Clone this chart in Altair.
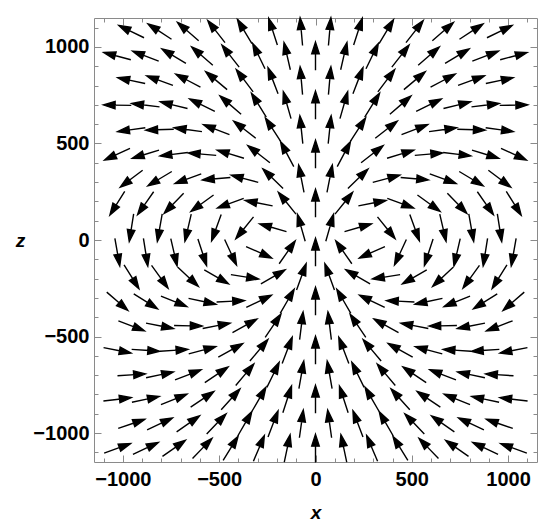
import altair as alt
import pandas as pd
import numpy as np

# ---- grid of arrow centres (hexagonal layout, rows alternate A / B) ----
ROW_Z = [1079.5, 952.5, 825.5, 698.5, 571.5, 444.5, 317.5, 190.5, 63.5,
         -63.5, -190.5, -317.5, -444.5, -571.5, -698.5, -825.5, -952.5, -1079.5]
COLS_A = [-955.5, -808.5, -661.5, -514.5, -367.5, -220.5, -73.5,
          73.5, 220.5, 367.5, 514.5, 661.5, 808.5, 955.5]
COLS_B = [-1029, -882, -735, -588, -441, -294, -147, 0,
          147, 294, 441, 588, 735, 882, 1029]

# ---- arrow directions (degrees, counter-clockwise from +x), read row by row ----
ANG_R01 = [154, 147, 139, 128, 121, 108, 95, 85, 72, 59, 52, 41, 33, 26]
ANG_R02 = [165, 159, 149, 139, 128, 116, 103, 90, 77, 64, 52, 41, 31, 21, 15]
ANG_R03 = [168, 160, 152, 140, 127, 111, 95, 85, 69, 53, 40, 28, 20, 12]
ANG_R04 = [179, 173, 166, 154, 139, 122, 106, 90, 74, 58, 41, 26, 14, 7, 1]
ANG_R05 = [188, 182, 172, 159, 142, 123, 96, 84, 57, 38, 21, 8, 358, 352]
ANG_R06 = [205, 197, 187, 175, 163, 142, 118, 90, 62, 38, 17, 5, 353, 343, 335]
ANG_R07 = [217, 211, 200, 185, 165, 136, 101, 79, 44, 15, 355, 340, 329, 323]
ANG_R08 = [238, 235, 226, 216, 200, 169, 129, 90, 51, 11, 340, 324, 314, 305, 302]
ANG_R09 = [261, 260, 257, 250, 231, 164, 106, 74, 16, 309, 290, 283, 280, 279]
ANG_R10 = [280, 279, 283, 288, 295, 336, 55, 90, 125, 204, 245, 252, 257, 261, 260]
ANG_R11 = [302, 306, 317, 330, 351, 30, 70, 110, 150, 189, 210, 223, 234, 238]
ANG_R12 = [319, 328, 338, 348, 3, 26, 60, 90, 120, 154, 177, 192, 202, 212, 221]
ANG_R13 = [339, 349, 359, 11, 29, 56, 83, 97, 124, 151, 169, 181, 191, 201]
ANG_R14 = [349, 356, 4, 15, 29, 50, 69, 90, 111, 130, 151, 165, 176, 184, 191]
ANG_R15 = [4, 12, 21, 34, 50, 64, 80, 100, 116, 130, 146, 159, 168, 176]
ANG_R16 = [7, 12, 22, 34, 48, 60, 72, 90, 108, 120, 132, 146, 158, 168, 173]
ANG_R17 = [19, 25, 35, 46, 60, 69, 82, 98, 111, 120, 134, 145, 155, 161]
ANG_R18 = [20, 25, 35, 46, 58, 67, 78, 90, 102, 113, 122, 134, 145, 155, 160]

ROW_ANGLES = [ANG_R01, ANG_R02, ANG_R03, ANG_R04, ANG_R05, ANG_R06, ANG_R07, ANG_R08, ANG_R09,
              ANG_R10, ANG_R11, ANG_R12, ANG_R13, ANG_R14, ANG_R15, ANG_R16, ANG_R17, ANG_R18]

MAJOR_TICKS = [-1000, -500, 0, 500, 1000]
MINOR_TICKS = [-1100, -900, -800, -700, -600, -400, -300, -200, -100,
               100, 200, 300, 400, 600, 700, 800, 900, 1100]
DOMAIN = [-1150, 1150]

# ---- build table ----
rows = []
for i, (z, angs) in enumerate(zip(ROW_Z, ROW_ANGLES)):
    cols = COLS_A if i % 2 == 0 else COLS_B
    for x, a in zip(cols, angs):
        rows.append({"x": x, "z": z, "rot": (90 - a) % 360})
df = pd.DataFrame(rows)

W, H = 443, 444
FONT = "Liberation Sans"
FRAME = "#8a8a8a"

ARROW = "M0,-1 L0.27,-0.16 L-0.27,-0.16 Z M0,-0.25 L0,1"

xs = alt.Scale(domain=DOMAIN, nice=False, zero=False)
ys = alt.Scale(domain=DOMAIN, nice=False, zero=False)

arrows = alt.Chart(df).mark_point(
    shape=ARROW, filled=True, fill="black", stroke="black", strokeWidth=1.4,
    opacity=1, size=784,
).encode(
    x=alt.X("x:Q", scale=xs, axis=alt.Axis(
        orient="bottom", values=MAJOR_TICKS, format="d", ticks=False, domain=False, grid=False,
        labelFont=FONT, labelFontWeight="bold", labelFontSize=20, labelColor="black",
        labelPadding=7, title="x", titleFont=FONT, titleFontStyle="italic",
        titleFontWeight="bold", titleFontSize=19, titleColor="black", titlePadding=14)),
    y=alt.Y("z:Q", scale=ys, axis=alt.Axis(
        orient="left", values=MAJOR_TICKS, format="d", ticks=False, domain=False, grid=False,
        labelFont=FONT, labelFontWeight="bold", labelFontSize=20, labelColor="black",
        labelPadding=5, title="z", titleFont=FONT, titleFontStyle="italic",
        titleFontWeight="bold", titleFontSize=19, titleColor="black", titleAngle=0,
        titleX=-74, titleY=H / 2, titleAlign="center", titleBaseline="middle")),
    angle=alt.Angle("rot:Q", scale=None),
)


def tick_axis(orient, offset, values, size):
    return alt.Axis(orient=orient, offset=offset, values=values, tickSize=size,
                    tickColor=FRAME, tickWidth=1, labels=False, domain=False,
                    grid=False, title=None)


def tick_layer(xorient, yorient, values, size):
    return alt.Chart(df).mark_point(opacity=0).encode(
        x=alt.X("x:Q", scale=xs, axis=tick_axis(xorient, -H, values, size)),
        y=alt.Y("z:Q", scale=ys, axis=tick_axis(yorient, -W, values, size)),
    )


chart = alt.layer(
    arrows,
    tick_layer("top", "right", MAJOR_TICKS, 7),
    tick_layer("top", "right", MINOR_TICKS, 4),
    tick_layer("bottom", "left", MAJOR_TICKS, 7),
    tick_layer("bottom", "left", MINOR_TICKS, 4),
).resolve_axis(x="independent", y="independent").properties(
    width=W, height=H,
    autosize=alt.AutoSizeParams(type="none"),
    padding={"left": 86, "top": 10, "right": 5, "bottom": 60},
    background="white",
).configure_view(stroke=FRAME, strokeWidth=1)

chart.save("out.html", embed_options={"renderer": "svg", "actions": False})
